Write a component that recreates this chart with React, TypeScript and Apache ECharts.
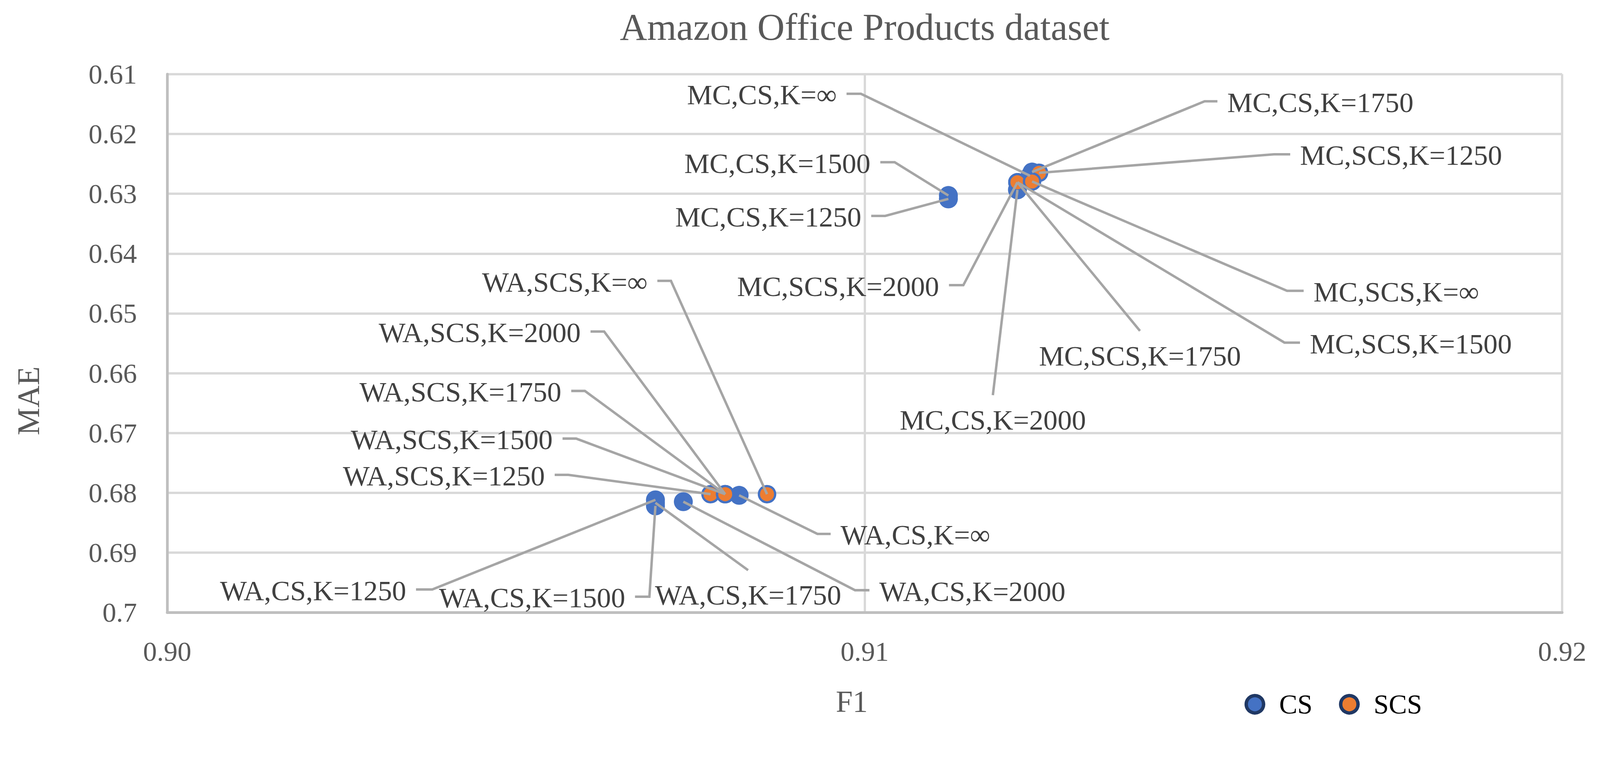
import React, { useEffect, useRef } from "react";
import * as echarts from "echarts";

// ---------- data ----------
const TITLE = "Amazon Office Products dataset";
const X_NAME = "F1";
const Y_NAME = "MAE";
const SERIES_NAMES = ["CS", "SCS"];

const X_MIN = 0.9;
const X_MAX = 0.92;
const X_STEP = 0.01;
const Y_MIN = 0.61;
const Y_MAX = 0.7;
const Y_STEP = 0.01;

const CS_LABELS = [
  "MC,CS,K=1250",
  "MC,CS,K=1500",
  "MC,CS,K=1750",
  "MC,CS,K=2000",
  "MC,CS,K=∞",
  "WA,CS,K=1250",
  "WA,CS,K=1500",
  "WA,CS,K=1750",
  "WA,CS,K=2000",
  "WA,CS,K=∞",
];
const CS_F1 = [0.9112, 0.9112, 0.9124, 0.91219, 0.91237, 0.907, 0.907, 0.907, 0.9074, 0.9082];
const CS_MAE = [0.63086, 0.63029, 0.62637, 0.62934, 0.627, 0.68117, 0.68218, 0.68167, 0.68148, 0.68041];

const SCS_LABELS = [
  "MC,SCS,K=1250",
  "MC,SCS,K=1500",
  "MC,SCS,K=1750",
  "MC,SCS,K=2000",
  "MC,SCS,K=∞",
  "WA,SCS,K=1250",
  "WA,SCS,K=1500",
  "WA,SCS,K=1750",
  "WA,SCS,K=2000",
  "WA,SCS,K=∞",
];
const SCS_F1 = [0.9125, 0.91219, 0.91219, 0.91219, 0.9124, 0.90779, 0.908, 0.908, 0.908, 0.9086];
const SCS_MAE = [0.6265, 0.62808, 0.62808, 0.62808, 0.62795, 0.68022, 0.68022, 0.68022, 0.68022, 0.68022];

// ---------- label layout (reference-pixel offsets of leader elbow from the point, stub length, side) ----------
const LEADERS: Record<string, [number, number, number, string]> = {
  "MC,CS,K=∞": [-447, -217, 38, "left"],
  "MC,CS,K=1750": [456, -187, 34, "right"],
  "MC,SCS,K=1250": [621, -49, 43, "right"],
  "MC,CS,K=1500": [-142, -88, 38, "left"],
  "MC,CS,K=1250": [-167, 45, 37, "left"],
  "MC,SCS,K=2000": [-143, 272, 38, "left"],
  "MC,SCS,K=∞": [674, 289, 44, "right"],
  "MC,SCS,K=1500": [706, 424, 41, "right"],
  "MC,SCS,K=1750": [324, 393, 0, "below"],
  "MC,CS,K=2000": [-65, 543, 0, "below"],
  "WA,SCS,K=∞": [-254, -564, 36, "left"],
  "WA,SCS,K=2000": [-320, -430, 36, "left"],
  "WA,SCS,K=1750": [-371, -273, 36, "left"],
  "WA,SCS,K=1500": [-394, -147, 36, "left"],
  "WA,SCS,K=1250": [-376, -51, 36, "left"],
  "WA,CS,K=∞": [207, 102, 35, "right"],
  "WA,CS,K=1250": [-590, 237, 43, "left"],
  "WA,CS,K=1500": [-16, 240, 38, "left"],
  "WA,CS,K=1750": [245, 178, 0, "below"],
  "WA,CS,K=2000": [454, 234, 38, "right"],
};

const REF_W = 4230;
const REF_H = 1946;
const FONT = "Liberation Serif";
const BLUE = "#4472C4";
const ORANGE = "#ED7D31";

export default function App() {
  const ref = useRef<HTMLDivElement>(null);
  const W = typeof window !== "undefined" ? window.innerWidth : REF_W;
  const H = typeof window !== "undefined" ? window.innerHeight : REF_H;
  const s = Math.min(W / REF_W, H / REF_H);

  useEffect(() => {
    document.body.style.margin = "0";
    document.body.style.overflow = "hidden";
    if (!ref.current) return;
    const chart = echarts.init(ref.current, undefined, { renderer: "svg" });
    const k = (v: number) => v * s;

    const allLabels = [...CS_LABELS, ...SCS_LABELS];
    const allF1 = [...CS_F1, ...SCS_F1];
    const allMAE = [...CS_MAE, ...SCS_MAE];
    const leaderData = allLabels.map((_, i) => [allF1[i], allMAE[i], i]);

    const renderLeader = (params: any, api: any) => {
      const idx = api.value(2);
      const name = allLabels[idx];
      const pt = api.coord([api.value(0), api.value(1)]);
      const [dx, dy, stub, side] = LEADERS[name];
      const ex = pt[0] + k(dx);
      const ey = pt[1] + k(dy);
      const points: number[][] = [
        [pt[0], pt[1]],
        [ex, ey],
      ];
      let tx = ex;
      let ty = ey + k(3);
      let align = "center";
      if (side === "left") {
        points.push([ex - k(stub), ey]);
        tx = ex - k(stub) - k(26);
        align = "right";
      } else if (side === "right") {
        points.push([ex + k(stub), ey]);
        tx = ex + k(stub) + k(26);
        align = "left";
      } else {
        ty = ey + k(66);
      }
      return {
        type: "group",
        children: [
          {
            type: "polyline",
            shape: { points },
            style: { stroke: "#A5A5A5", lineWidth: k(6.5), fill: "none" },
          },
          {
            type: "text",
            style: {
              text: name,
              x: tx,
              y: ty,
              align,
              verticalAlign: "middle",
              fill: "#404040",
              fontSize: k(75),
              fontFamily: FONT,
            },
          },
        ],
      };
    };

    const option: any = {
      animation: false,
      backgroundColor: "#ffffff",
      textStyle: { fontFamily: FONT },
      grid: { left: k(442), right: k(100), top: k(196), bottom: k(326), containLabel: false },
      xAxis: {
        type: "value",
        min: X_MIN,
        max: X_MAX,
        interval: X_STEP,
        axisLine: { show: true, onZero: false, lineStyle: { color: "#BFBFBF", width: k(7) } },
        axisTick: { show: false },
        axisLabel: {
          formatter: (v: number) => v.toFixed(2),
          fontSize: k(73),
          fontFamily: FONT,
          color: "#595959",
          margin: k(66),
        },
        splitLine: { show: true, lineStyle: { color: "#D9D9D9", width: k(6) } },
      },
      yAxis: {
        type: "value",
        inverse: true,
        min: Y_MIN,
        max: Y_MAX,
        interval: Y_STEP,
        axisLine: { show: true, onZero: false, lineStyle: { color: "#BFBFBF", width: k(7) } },
        axisTick: { show: false },
        axisLabel: {
          formatter: (v: number) => String(parseFloat(v.toFixed(2))),
          fontSize: k(73),
          fontFamily: FONT,
          color: "#595959",
          margin: k(80),
        },
        splitLine: { show: true, lineStyle: { color: "#D9D9D9", width: k(6) } },
      },
      legend: {
        data: SERIES_NAMES,
        left: k(3285),
        top: k(1821),
        itemWidth: k(46),
        itemHeight: k(46),
        itemGap: k(70),
        icon: "circle",
        selectedMode: false,
        itemStyle: { borderColor: "#203864", borderWidth: k(9) },
        textStyle: {
          fontSize: k(72),
          fontFamily: FONT,
          color: "#000000",
          padding: [0, 0, 0, k(36)],
        },
      },
      graphic: [
        {
          type: "text",
          x: k(2286),
          y: k(72),
          style: {
            text: TITLE,
            align: "center",
            verticalAlign: "middle",
            fontSize: k(100),
            fontFamily: FONT,
            fill: "#595959",
          },
        },
        {
          type: "text",
          x: k(2252),
          y: k(1855),
          style: {
            text: X_NAME,
            align: "center",
            verticalAlign: "middle",
            fontSize: k(80),
            fontFamily: FONT,
            fill: "#595959",
          },
        },
        {
          type: "text",
          x: k(75),
          y: k(1060),
          rotation: Math.PI / 2,
          style: {
            text: Y_NAME,
            align: "center",
            verticalAlign: "middle",
            fontSize: k(82),
            fontFamily: FONT,
            fill: "#595959",
          },
        },
      ],
      series: [
        {
          name: SERIES_NAMES[0],
          type: "scatter",
          symbol: "circle",
          symbolSize: k(50),
          itemStyle: { color: BLUE, borderWidth: 0, opacity: 1 },
          emphasis: { disabled: true },
          data: CS_F1.map((x, i) => [x, CS_MAE[i]]),
          z: 2,
        },
        {
          name: SERIES_NAMES[1],
          type: "scatter",
          symbol: "circle",
          symbolSize: k(43),
          itemStyle: { color: ORANGE, borderColor: BLUE, borderWidth: k(6), opacity: 1 },
          emphasis: { disabled: true },
          data: SCS_F1.map((x, i) => [x, SCS_MAE[i]]),
          z: 3,
        },
        {
          name: "leaders",
          type: "custom",
          silent: true,
          clip: false,
          z: 4,
          encode: { x: 0, y: 1 },
          data: leaderData,
          renderItem: renderLeader,
        },
      ],
    };

    chart.setOption(option);
    return () => {
      chart.dispose();
    };
  }, [s]);

  return <div ref={ref} style={{ width: Math.floor(REF_W * s), height: Math.floor(REF_H * s) }} />;
}
